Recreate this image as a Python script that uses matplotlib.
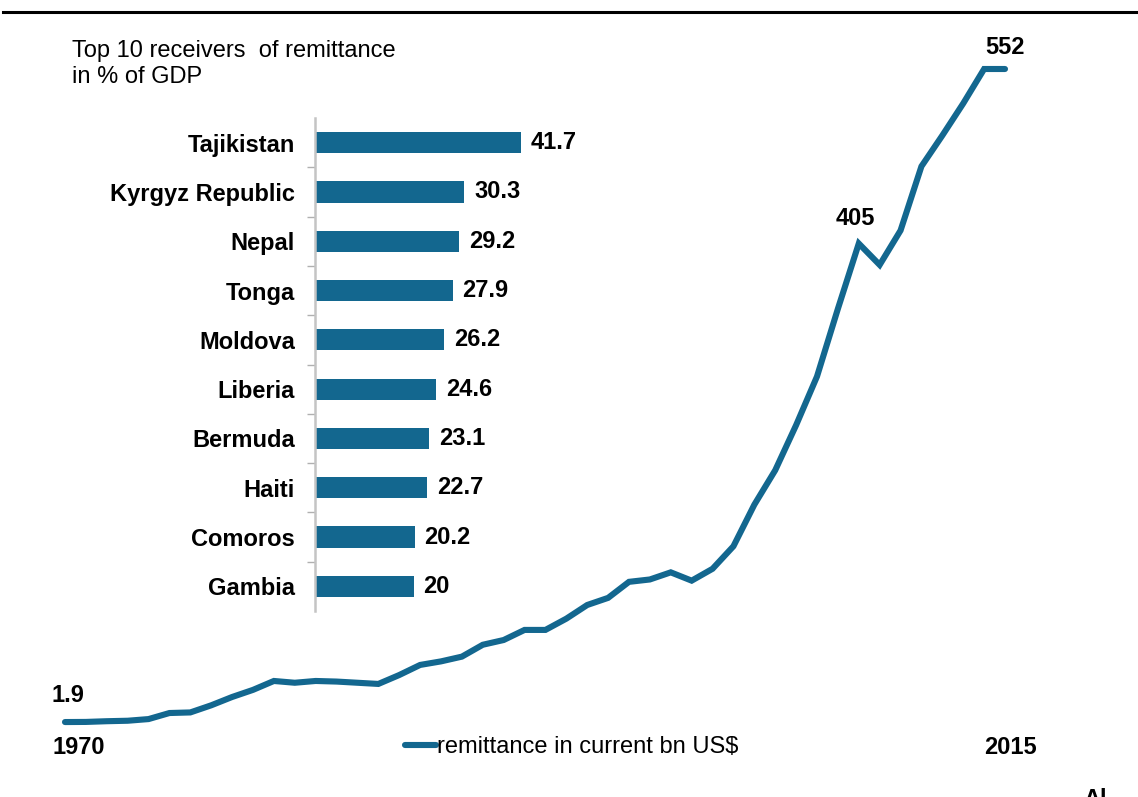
import numpy as np
import matplotlib.pyplot as plt
from matplotlib.lines import Line2D

plt.rcParams['font.family'] = ['Liberation Sans', 'DejaVu Sans']

BLUE = '#13678f'

# remittance inflows, current bn US$
years = list(range(1970, 2016))
remittance = [1.9, 2.0, 2.6, 3.0, 4.4, 9.5, 10.0, 16.0, 23.0, 29.0,
              36.5, 35.0, 36.5, 36.0, 35.0, 34.0, 41.5, 50.0, 53.0, 57.0,
              67.0, 71.0, 79.5, 79.5, 89.0, 100.5, 106.5, 120.0, 122.0, 128.0,
              121.0, 131.0, 150.0, 185.0, 214.0, 252.0, 293.0, 350.0, 405.0, 387.0,
              416.0, 470.0, 496.0, 523.0, 552.0, 552.0]

# top 10 receivers, remittance in % of GDP
countries = ['Tajikistan', 'Kyrgyz Republic', 'Nepal', 'Tonga', 'Moldova',
             'Liberia', 'Bermuda', 'Haiti', 'Comoros', 'Gambia']
share_gdp = [41.7, 30.3, 29.2, 27.9, 26.2, 24.6, 23.1, 22.7, 20.2, 20]
share_labels = ['41.7', '30.3', '29.2', '27.9', '26.2', '24.6', '23.1', '22.7', '20.2', '20']

W, H = 1138, 797
fig = plt.figure(figsize=(W / 100, H / 100), dpi=100)

# main line chart, axes hidden
ax = fig.add_axes([65 / W, (H - 724.3) / H, (1005 - 65) / W, (724.3 - 69) / H])
ax.set_xlim(1970, 2015)
ax.set_ylim(0, 552)
ax.axis('off')
line, = ax.plot(years, remittance, color=BLUE, lw=4.4, solid_capstyle='round',
                solid_joinstyle='miter', clip_on=False,
                label='remittance in current bn US$')

def value_label(i, dx, dy):
    ax.annotate(f'{remittance[i]:g}', (years[i], remittance[i]),
                xytext=(dx, dy), textcoords='offset pixels',
                ha='center', va='center', fontsize=17, fontweight='bold')

value_label(0, 3, 27)
value_label(years.index(2008), -3, 25)
value_label(len(years) - 1, 0, 22)

fig.text(52 / W, (H - 747) / H, '1970', ha='left', va='center', fontsize=17, fontweight='bold')
fig.text(1010 / W, (H - 747) / H, '2015', ha='center', va='center', fontsize=17, fontweight='bold')

ax.legend(handles=[line], loc='center left', bbox_to_anchor=(405 / W, (H - 747) / H),
          bbox_transform=fig.transFigure, frameon=False, fontsize=17,
          handlelength=1.3, handletextpad=0.05, borderpad=0, borderaxespad=0)

# inset bar chart
bx = fig.add_axes([315 / W, (H - 611) / H, 296 / W, 493 / H])
pos = np.arange(len(countries))
bx.barh(pos, share_gdp, height=0.43, color=BLUE)
for p, v, lab in zip(pos, share_gdp, share_labels):
    bx.text(v + 2.0, p, lab, ha='left', va='center', fontsize=17, fontweight='bold')
bx.set_xlim(0, 60)
bx.set_ylim(len(countries) - 0.5, -0.5)
bx.set_yticks(pos)
bx.set_yticklabels(countries, fontsize=17, fontweight='bold')
bx.set_yticks(pos[:-1] + 0.5, minor=True)
bx.tick_params(axis='y', which='major', length=0, pad=14.5)
bx.tick_params(axis='y', which='minor', length=6, width=1, color='#b0b0b0')
bx.set_xticks([])
for s in ['top', 'right', 'bottom']:
    bx.spines[s].set_visible(False)
bx.spines['left'].set_color('#c4c4c4')
bx.spines['left'].set_linewidth(1.8)
bx.patch.set_alpha(0)

fig.text(72 / W, (H - 40) / H, 'Top 10 receivers  of remittance\nin % of GDP',
         ha='left', va='top', fontsize=17, linespacing=1.25)

# rule across the top
fig.add_artist(Line2D([3 / W, 1.0], [(H - 12) / H] * 2, color='black', lw=2.2))
fig.text(1083 / W, (H - 788) / H, 'Al', ha='left', va='top', fontsize=17, fontweight='bold')

fig.savefig('out.png', dpi=100)
